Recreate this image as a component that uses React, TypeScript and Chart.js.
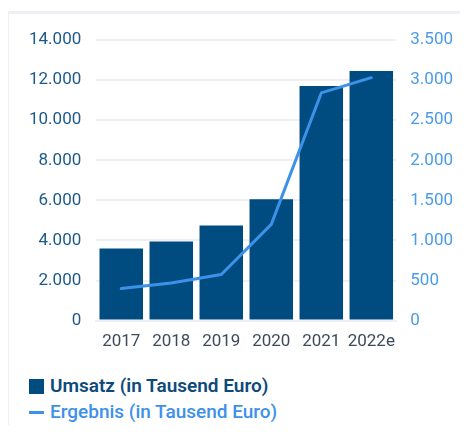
import React, { useEffect, useRef } from "react";
import { Chart, registerables } from "chart.js";

Chart.register(...registerables);

const categories = ["2017", "2018", "2019", "2020", "2021", "2022e"];
const umsatz = [3600, 3950, 4750, 6050, 11700, 12450];
const ergebnis = [400, 470, 575, 1200, 2840, 3030];
const umsatzLabel = "Umsatz (in Tausend Euro)";
const ergebnisLabel = "Ergebnis (in Tausend Euro)";

const BAR = "#004c80";
const LINE = "#3d91e8";
const FONT = "Roboto, 'Noto Sans', sans-serif";

function fmt(v: number): string {
  return String(Math.round(v)).replace(/\B(?=(\d{3})+(?!\d))/g, ".");
}

export default function App() {
  const ref = useRef<HTMLCanvasElement | null>(null);
  useEffect(() => {
    if (!ref.current) return;
    const chart = new Chart(ref.current, {
      data: {
        labels: categories,
        datasets: [
          {
            type: "line",
            label: ergebnisLabel,
            data: ergebnis,
            borderColor: LINE,
            backgroundColor: LINE,
            borderWidth: 3,
            pointRadius: 0,
            tension: 0,
            borderJoinStyle: "round",
            borderCapStyle: "round",
            yAxisID: "y1",
            order: 0,
          },
          {
            type: "bar",
            label: umsatzLabel,
            data: umsatz,
            backgroundColor: BAR,
            borderWidth: 0,
            categoryPercentage: 0.87,
            barPercentage: 1,
            yAxisID: "y",
            order: 1,
          },
        ],
      },
      options: {
        animation: false,
        responsive: false,
        maintainAspectRatio: false,
        layout: { padding: { left: 6, right: 7, top: 32, bottom: 0 } },
        plugins: { legend: { display: false }, tooltip: { enabled: false } },
        scales: {
          x: {
            grid: { display: false },
            border: { display: true, color: "#eef0f5", width: 2 },
            ticks: {
              color: "#3d4a5c",
              font: { family: FONT, size: 17 },
              padding: 3,
              maxRotation: 0,
              minRotation: 0,
              autoSkip: false,
            },
          },
          y: {
            position: "left",
            min: 0,
            max: 14000,
            grid: { color: "#eef0f5", lineWidth: 2, drawTicks: false },
            border: { display: false },
            ticks: {
              stepSize: 2000,
              color: "#1d5a8c",
              padding: 15,
              font: { family: FONT, size: 17 },
              callback: (v: any) => fmt(Number(v)),
            },
          },
          y1: {
            position: "right",
            min: 0,
            max: 3500,
            grid: { drawOnChartArea: false, drawTicks: false },
            border: { display: false },
            ticks: {
              stepSize: 500,
              color: "#4a9be8",
              padding: 14,
              font: { family: FONT, size: 17 },
              callback: (v: any) => fmt(Number(v)),
            },
          },
        },
      },
    } as any);
    return () => chart.destroy();
  }, []);

  const legendText: React.CSSProperties = {
    fontFamily: FONT,
    fontSize: 19,
    fontWeight: 500,
    lineHeight: "26px",
    display: "flex",
    alignItems: "center",
    whiteSpace: "nowrap",
  };

  return (
    <div style={{ position: "relative", width: 452, height: 417, fontFamily: FONT }}>
      <div
        style={{
          position: "absolute",
          left: -2,
          top: 3,
          width: 600,
          height: 600,
          border: "3px solid #eef0f5",
          boxSizing: "border-box",
        }}
      />
      <canvas ref={ref} width={466} height={347} style={{ position: "absolute", left: 0, top: 0, width: 466, height: 347 }} />
      <div style={{ position: "absolute", left: 21, top: 365 }}>
        <div style={{ ...legendText, color: "#0d4a7a", fontWeight: 600 }}>
          <span style={{ display: "inline-block", width: 15, height: 15, background: BAR, marginRight: 6 }} />
          {umsatzLabel}
        </div>
        <div style={{ ...legendText, color: LINE }}>
          <span style={{ display: "inline-block", width: 15, height: 3, background: LINE, marginRight: 6 }} />
          {ergebnisLabel}
        </div>
      </div>
    </div>
  );
}
